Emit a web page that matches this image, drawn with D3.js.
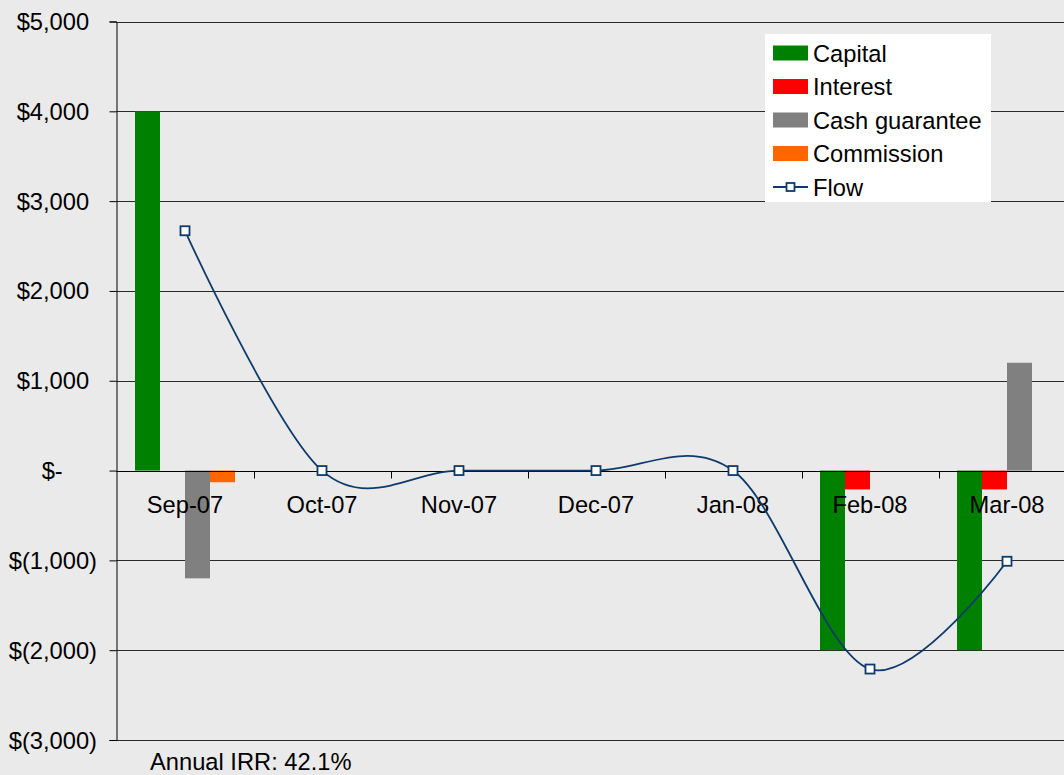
<!DOCTYPE html>
<html>
<head>
<meta charset="utf-8">
<script src="https://cdn.jsdelivr.net/npm/d3@7"></script>
<style>
  body { margin: 0; background: #eaeaea; }
  svg { display: block; font-family: "Liberation Sans", Arial, sans-serif; }
</style>
</head>
<body>
<div id="chart"></div>
<script>
const months = ["Sep-07", "Oct-07", "Nov-07", "Dec-07", "Jan-08", "Feb-08", "Mar-08"];
const seriesNames = ["Capital", "Interest", "Cash guarantee", "Commission"];
const capital = [4000, 0, 0, 0, 0, -2000, -2000];
const interest = [0, 0, 0, 0, 0, -210, -210];
const cashGuarantee = [-1200, 0, 0, 0, 0, 0, 1200];
const commission = [-130, 0, 0, 0, 0, 0, 0];
const flow = [2670, 0, 0, 0, 0, -2210, -1010];
const yTicks = [5000, 4000, 3000, 2000, 1000, 0, -1000, -2000, -3000];
const irrText = "Annual IRR: 42.1%";

const colors = ["#008000", "#ff0000", "#808080", "#ff6600"];
const lineColor = "#0f3b6c";
const width = 1064;
const height = 775;
const fontSize = 23.7;

const svg = d3.select("#chart").append("svg")
    .attr("width", width)
    .attr("height", height);

svg.append("rect").attr("width", width).attr("height", height).attr("fill", "#eaeaea");

const left = 116.5;
const band = 137;

const x = d3.scaleBand()
    .domain(months)
    .range([left, left + band * months.length]);

const xs = d3.scaleBand()
    .domain(seriesNames)
    .range([18.5, 118.5]);

const y = d3.scaleLinear()
    .domain([-3000, 5000])
    .range([740, 21.5]);

// gridlines
svg.append("g")
    .selectAll("line")
    .data(yTicks)
    .enter()
    .append("line")
    .attr("x1", left)
    .attr("x2", width)
    .attr("y1", d => Math.round(y(d)) + 0.5)
    .attr("y2", d => Math.round(y(d)) + 0.5)
    .attr("stroke", "#2a2a2a")
    .attr("stroke-width", 1);

// y axis
const yAxis = d3.axisLeft(y)
    .tickValues(yTicks)
    .tickSize(7)
    .tickFormat("");
const yg = svg.append("g")
    .attr("transform", `translate(${left},0)`)
    .call(yAxis);
yg.select(".domain").attr("stroke", "#000");
yg.selectAll(".tick line").attr("stroke", "#000");

function money(v) {
    if (v === 0) return "$-";
    const s = d3.format(",")(Math.abs(v));
    return v < 0 ? "$(" + s + ")" : "$" + s;
}
function pad(v) {
    if (v === 0) return 0.333 + 1.112;
    return v < 0 ? 0 : 0.333;
}

svg.append("g")
    .selectAll("text")
    .data(yTicks)
    .enter()
    .append("text")
    .attr("x", 97)
    .attr("y", d => y(d))
    .attr("dx", d => (-pad(d)) + "em")
    .attr("dy", "0.36em")
    .attr("text-anchor", "end")
    .attr("font-size", fontSize)
    .attr("fill", "#000")
    .text(money);

// bars
const rows = months.map((m, i) => ({
    month: m,
    values: [capital[i], interest[i], cashGuarantee[i], commission[i]]
}));

const groups = svg.append("g")
    .selectAll("g")
    .data(rows)
    .enter()
    .append("g")
    .attr("transform", d => `translate(${x(d.month)},0)`);

groups.selectAll("rect")
    .data(d => d.values.map((v, k) => ({ name: seriesNames[k], value: v, k: k })))
    .enter()
    .append("rect")
    .filter(d => d.value !== 0)
    .attr("x", d => xs(d.name))
    .attr("width", xs.bandwidth())
    .attr("y", d => y(Math.max(0, d.value)))
    .attr("height", d => Math.abs(y(d.value) - y(0)))
    .attr("fill", d => colors[d.k]);

// zero line + category ticks
const z = Math.round(y(0)) + 0.5;
svg.append("line")
    .attr("x1", left).attr("x2", width)
    .attr("y1", z).attr("y2", z)
    .attr("stroke", "#000");

svg.append("g")
    .selectAll("line")
    .data(months.slice(1))
    .enter()
    .append("line")
    .attr("x1", d => Math.round(x(d)) + 0.5)
    .attr("x2", d => Math.round(x(d)) + 0.5)
    .attr("y1", z)
    .attr("y2", z + 7)
    .attr("stroke", "#000");

svg.append("g")
    .selectAll("text")
    .data(months)
    .enter()
    .append("text")
    .attr("x", d => x(d) + x.bandwidth() / 2)
    .attr("y", 512.5)
    .attr("text-anchor", "middle")
    .attr("font-size", fontSize)
    .attr("fill", "#000")
    .text(d => d);

// flow line
const cx = i => x(months[i]) + x.bandwidth() / 2;
const line = d3.line()
    .x((d, i) => cx(i))
    .y(d => y(d))
    .curve(d3.curveCardinal.tension(0));

svg.append("path")
    .datum(flow)
    .attr("d", line)
    .attr("fill", "none")
    .attr("stroke", lineColor)
    .attr("stroke-width", 1.8);

svg.append("g")
    .selectAll("rect")
    .data(flow)
    .enter()
    .append("rect")
    .attr("x", (d, i) => cx(i) - 4.5)
    .attr("y", d => y(d) - 4.5)
    .attr("width", 9)
    .attr("height", 9)
    .attr("fill", "#fff")
    .attr("stroke", lineColor)
    .attr("stroke-width", 1.8);

// legend
const legend = svg.append("g");
legend.append("rect")
    .attr("x", 765).attr("y", 34)
    .attr("width", 226).attr("height", 168)
    .attr("fill", "#fff");

const legendItems = seriesNames.concat(["Flow"]);
const ly = i => 53 + i * 33.5;

legend.selectAll("rect.sw")
    .data(seriesNames)
    .enter()
    .append("rect")
    .attr("class", "sw")
    .attr("x", 773)
    .attr("y", (d, i) => ly(i) - 7.5)
    .attr("width", 35)
    .attr("height", 15)
    .attr("fill", (d, i) => colors[i]);

legend.append("line")
    .attr("x1", 773).attr("x2", 808)
    .attr("y1", ly(4)).attr("y2", ly(4))
    .attr("stroke", lineColor)
    .attr("stroke-width", 1.8);
legend.append("rect")
    .attr("x", 790.5 - 4).attr("y", ly(4) - 4)
    .attr("width", 8).attr("height", 8)
    .attr("fill", "#fff")
    .attr("stroke", lineColor)
    .attr("stroke-width", 1.8);

legend.selectAll("text")
    .data(legendItems)
    .enter()
    .append("text")
    .attr("x", 813)
    .attr("y", (d, i) => ly(i))
    .attr("dy", "0.36em")
    .attr("font-size", fontSize)
    .attr("fill", "#000")
    .text(d => d);

svg.append("text")
    .attr("x", 150)
    .attr("y", 770)
    .attr("font-size", fontSize)
    .attr("fill", "#000")
    .text(irrText);
</script>
</body>
</html>
